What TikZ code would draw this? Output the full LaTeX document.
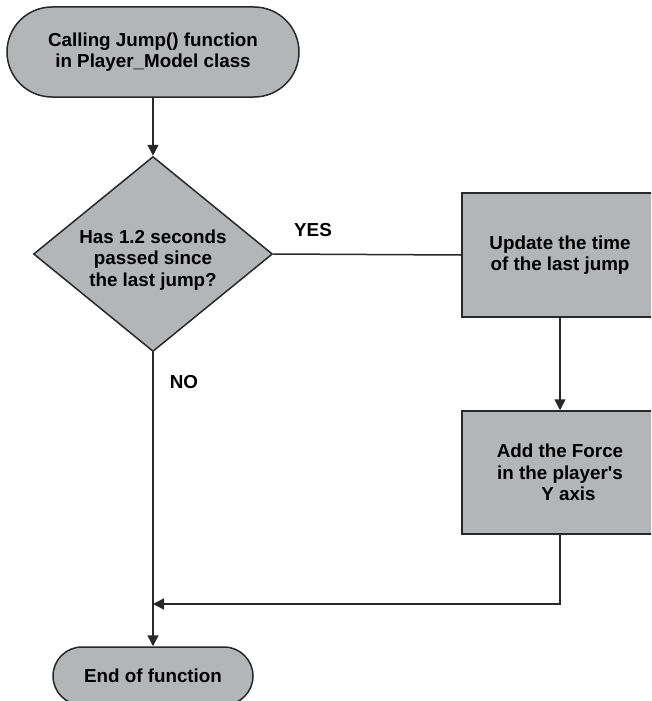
\documentclass[tikz,border=0pt]{standalone}
\usepackage{fontspec}
\setmainfont{Liberation Sans}
\usetikzlibrary{arrows.meta,shapes.geometric}
\definecolor{boxgray}{RGB}{180,181,183}
\definecolor{edgegray}{RGB}{40,40,40}

\begin{document}
\begin{tikzpicture}[x=1pt,y=-1pt,
  every node/.style={font=\fontsize{18.8}{21.5}\selectfont\bfseries,
    text=black, align=center, inner sep=0pt},
  shapebase/.style={draw=edgegray, line width=1.5pt, fill=boxgray},
  terminal/.style={shapebase, rectangle},
  process/.style={shapebase, rectangle, minimum width=196pt, minimum height=124pt},
  decision/.style={shapebase, diamond, minimum width=239pt, minimum height=195pt},
  conn/.style={draw=edgegray, line width=1.5pt},
  arrow/.style={conn, -{Triangle[length=11pt,width=11pt]}}
]
\useasboundingbox (0,0) rectangle (651,701);
\clip (0,0) rectangle (651,701);

% terminals
\node[terminal, minimum width=292pt, minimum height=90pt, rounded corners=45pt]
  (start) at (153,52) {Calling Jump() function\\in Player\_Model class};
\node[terminal, minimum width=200pt, minimum height=58pt, rounded corners=29pt]
  (finish) at (153,676) {End of function};

% decision
\node[decision] (dec) at (153,254) {};
\node (dectext) at (153,260) {Has 1.2 seconds\\passed since\\the last jump?};

% processes
\node[process] (upd) at (560,255) {Update the time\\of the last jump};
\node[process, minimum height=123pt] (force) at (560,472.5)
  {Add the Force\\in the player\textquotesingle s\\\hspace*{17pt}Y axis};

% branch labels
\node (yes) at (313,230) {YES};
\node (no) at (184,382) {NO};

% connectors
\coordinate (join) at (153,604);
\draw[arrow] (start.south) -- (dec.north);
\draw[conn] (dec.east) -- (upd.west);
\draw[arrow] (upd.south) -- (force.north);
\draw[arrow] (dec.south) -- (finish.north);
\draw[arrow] (force.south) |- (join);
\end{tikzpicture}
\end{document}
